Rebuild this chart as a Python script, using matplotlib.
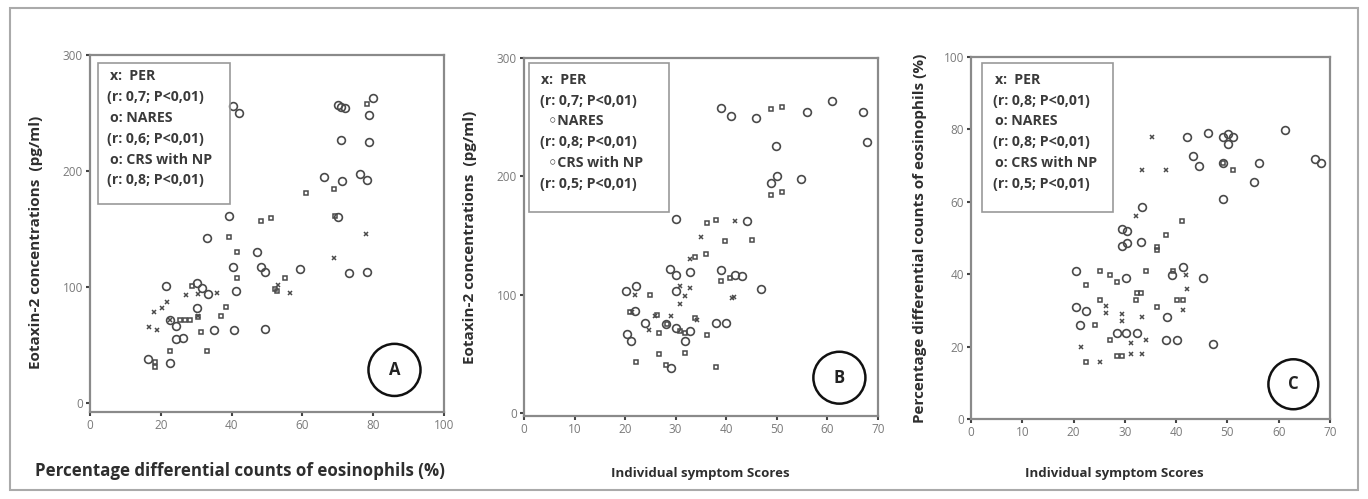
import matplotlib.pyplot as plt
from matplotlib.patches import Ellipse, Rectangle

# ---- Panel A: eosinophils (%) vs eotaxin-2 (pg/ml)
a_nares_x = [40.3, 42.2, 70, 71, 72, 80, 78.8, 70.9, 78.8, 66.1, 71.2, 76.4, 78.3, 70.1, 73.2, 78.3,
             59.3, 48.3, 49.4, 47.1, 40.5, 39.2, 33.1, 41.2, 49.4, 21.5, 30.3, 31.5, 33.4, 30.3,
             24.2, 22.6, 24.2, 26.3, 40.7, 35.1, 16.5, 22.6]
a_nares_y = [256, 250, 257, 255, 254, 263, 248, 227, 225, 195, 191, 197, 192, 160, 112, 113,
             115, 117, 113, 130, 117, 161, 142, 96, 64, 101, 103, 99, 94, 82,
             66, 71, 55, 56, 63, 63, 38, 34]
a_crs_x = [78.3, 61, 69, 69.2, 51, 48.3, 39.3, 41.4, 41.4, 55.2, 52.2, 52.8, 38.4, 37.1, 31.4,
           33, 22.6, 25.4, 26.8, 28.2, 30.5, 18.4, 18.4, 28.7]
a_crs_y = [258, 181, 184, 161, 159, 157, 143, 130, 108, 108, 98, 96, 83, 75, 61,
           45, 45, 71, 71, 71, 74, 35, 31, 101]
a_per_x = [77.9, 69, 56.5, 53.1, 36, 27.1, 30.4, 21.7, 20.4, 18.1, 16.6, 18.9, 30.5, 22.7]
a_per_y = [146, 125, 95, 102, 95, 93, 94, 87, 82, 78, 65, 63, 75, 71]

# ---- Panel B: symptom scores vs eotaxin-2 (pg/ml)
b_nares_x = [38.9, 40.9, 45.9, 60.9, 55.9, 67, 67.9, 49.8, 50, 48.9, 54.8, 30.1, 44.1, 28.9, 30.1,
             32.8, 39, 41.8, 43.1, 46.8, 22.1, 20.2, 30, 22, 24, 20.3, 21.1, 30, 28.1, 32.8,
             37.9, 40, 29.1, 31.9]
b_nares_y = [258, 251, 249, 264, 254, 254, 229, 226, 200, 194, 198, 164, 162, 122, 117,
             119, 121, 117, 116, 105, 107, 103, 103, 86, 76, 67, 61, 72, 75, 69,
             76, 76, 38, 61]
b_crs_x = [48.9, 51, 48.8, 51, 36.1, 38, 39.8, 45, 36, 33.8, 39, 40.8, 24.9, 26.3, 26.8, 28.2,
           31.9, 30.9, 31.9, 26.8, 22.1, 28, 36.1, 38, 33.8, 20.9]
b_crs_y = [257, 259, 184, 187, 161, 163, 145, 146, 134, 132, 112, 114, 100, 83, 68, 75,
           68, 69, 51, 50, 43, 41, 66, 39, 80, 85]
b_per_x = [35, 41.8, 32.8, 30.9, 32.8, 31.9, 30.9, 29.1, 25.9, 24.8, 21.3, 22, 34.2, 41.1, 41.6]
b_per_y = [149, 162.5, 130, 107, 106, 99, 92, 82, 82, 70, 85, 100, 79, 97, 98]

# ---- Panel C: symptom scores vs eosinophils (%)
c_nares_x = [61.2, 46.3, 42.2, 49.1, 50.2, 51.1, 50.2, 43.3, 44.4, 49.1, 56.2, 55.2, 49.1, 67.1,
             68.2, 33.3, 29.4, 30.4, 29.4, 30.4, 33.1, 20.5, 30.3, 41.3, 39.2, 47.1, 21.3, 20.4,
             22.4, 28.4, 30.3, 32.3, 38.1, 40.2, 38.3, 45.2]
c_nares_y = [79.9, 79, 78, 78, 78.8, 78, 76, 72.7, 69.8, 70.7, 70.7, 65.6, 60.7, 71.8,
             70.7, 58.7, 52.4, 51.8, 47.8, 48.6, 48.8, 41, 38.9, 42, 39.8, 20.7, 26, 30.9,
             29.9, 23.7, 23.7, 23.7, 21.7, 21.7, 28.1, 38.9]
c_crs_x = [51.1, 41.1, 38.1, 36.2, 36.2, 25.1, 27.1, 28.4, 34.2, 39.3, 22.4, 32.3, 33.1, 32.2,
           40.1, 41.3, 25.1, 36.3, 24.2, 27.2, 28.5, 29.4, 22.4, 49.1]
c_crs_y = [68.7, 54.8, 50.9, 47.6, 46.7, 41, 39.8, 37.8, 41, 41, 36.9, 34.7, 34.7, 33,
           33, 33, 33, 31, 26, 21.7, 17.4, 17.4, 15.7, 70.7]
c_per_x = [35.3, 33.3, 38.1, 32.2, 42, 42.2, 41.3, 26.3, 26.3, 29.4, 29.4, 33.3, 34.2, 31.2,
           31.2, 33.3, 21.4, 25.1]
c_per_y = [78, 68.8, 68.8, 56, 39.8, 35.9, 30.1, 31.2, 29.2, 29, 27.1, 28.1, 21.8, 20.9,
           18, 18, 19.8, 15.7]

a_legend = ["x:  PER", "(r: 0,7; P<0,01)", "o: NARES", "(r: 0,6; P<0,01)", "o: CRS with NP", "(r: 0,8; P<0,01)"]
b_legend = ["x:  PER", "(r: 0,7; P<0,01)", "  \u25e6NARES", "(r: 0,8; P<0,01)", "  \u25e6CRS with NP", "(r: 0,5; P<0,01)"]
c_legend = ["x:  PER", "(r: 0,8; P<0,01)", "o: NARES", "(r: 0,8; P<0,01)", "o: CRS with NP", "(r: 0,5; P<0,01)"]

plt.rcParams['font.family'] = ['Open Sans', 'DejaVu Sans']

GRAY = '#8a8a8a'
MK = '#4a4a4a'
TXT = '#2e2e2e'


def scatterPanel(ax, nx, ny, cx, cy, px, py):
    ax.plot(nx, ny, 'o', ms=5.6, mfc='none', mec=MK, mew=1.2, ls='none')
    ax.plot(cx, cy, 's', ms=3.4, mfc='none', mec=MK, mew=1.1, ls='none')
    ax.plot(px, py, 'x', ms=3.3, mec=MK, mew=1.1, ls='none')
    for s in ax.spines.values():
        s.set_color(GRAY)
        s.set_linewidth(1.6)
    ax.tick_params(direction='out', length=3, width=1.5, color='#444', labelsize=8.5,
                   labelcolor='#7a7a7a', pad=2)


def legendBox(ax, box, xs, ys, lines):
    x0, x1, y0, y1 = box
    ax.add_patch(Rectangle((x0, y0), x1 - x0, y1 - y0, transform=ax.transAxes,
                           fill=False, ec='#999999', lw=1.2, zorder=5))
    for i, t in enumerate(lines):
        ax.text(xs[i % 2], ys[i], t, transform=ax.transAxes, fontsize=10.2,
                fontweight='bold', color='#3a3a3a', va='center', ha='left', zorder=6)


def circledLetter(ax, cx, cy, w, h, letter):
    ax.add_patch(Ellipse((cx, cy), w, h, transform=ax.transAxes, fill=False,
                         ec='#111111', lw=1.8, zorder=6))
    ax.text(cx, cy, letter, transform=ax.transAxes, fontsize=12, fontweight='bold',
            color='#222', ha='center', va='center', zorder=7)


fig = plt.figure(figsize=(13.68, 4.99), dpi=100)
fig.patches.append(Rectangle((0.007, 0.018), 0.986, 0.966, transform=fig.transFigure,
                             fill=False, ec='#aaaaaa', lw=1.5))

axA = fig.add_axes([0.0658, 0.1743, 0.2588, 0.7154])
scatterPanel(axA, a_nares_x, a_nares_y, a_crs_x, a_crs_y, a_per_x, a_per_y)
axA.set_xlim(0, 100)
axA.set_ylim(-8, 300)
axA.set_xticks([0, 20, 40, 60, 80, 100])
axA.set_yticks([0, 100, 200, 300])
axA.set_ylabel('Eotaxin-2 concentrations  (pg/ml)', fontsize=11, fontweight='bold', color=TXT)
axA.yaxis.set_label_coords(-0.133, 0.476)
axA.set_xlabel('Percentage differential counts of eosinophils (%)', fontsize=12.2,
               fontweight='bold', color=TXT)
axA.xaxis.set_label_coords(0.424, -0.14)
legendBox(axA, (0.023, 0.395, 0.583, 0.978), (0.056, 0.048),
          [0.941, 0.883, 0.825, 0.766, 0.707, 0.650], a_legend)
circledLetter(axA, 0.86, 0.118, 0.147, 0.146, 'A')

axB = fig.add_axes([0.383, 0.1663, 0.2588, 0.7174])
scatterPanel(axB, b_nares_x, b_nares_y, b_crs_x, b_crs_y, b_per_x, b_per_y)
axB.set_xlim(0, 70)
axB.set_ylim(-2.5, 300)
axB.set_xticks(range(0, 71, 10))
axB.set_yticks([0, 100, 200, 300])
axB.set_ylabel('Eotaxin-2 concentrations  (pg/ml)', fontsize=11, fontweight='bold', color=TXT)
axB.yaxis.set_label_coords(-0.133, 0.5)
axB.set_xlabel('Individual symptom Scores', fontsize=9.5, fontweight='bold', color=TXT)
axB.xaxis.set_label_coords(0.497, -0.142)
legendBox(axB, (0.014, 0.410, 0.570, 0.986), (0.047, 0.044),
          [0.939, 0.881, 0.825, 0.766, 0.708, 0.648], b_legend)
circledLetter(axB, 0.891, 0.107, 0.147, 0.145, 'B')

axC = fig.add_axes([0.7098, 0.1603, 0.2624, 0.7255])
scatterPanel(axC, c_nares_x, c_nares_y, c_crs_x, c_crs_y, c_per_x, c_per_y)
axC.set_xlim(0, 70)
axC.set_ylim(0, 100)
axC.set_xticks(range(0, 71, 10))
axC.set_yticks(range(0, 101, 20))
axC.set_ylabel('Percentage differential counts of eosinophils (%)', fontsize=11,
               fontweight='bold', color=TXT)
axC.yaxis.set_label_coords(-0.123, 0.5)
axC.set_xlabel('Individual symptom Scores', fontsize=9.5, fontweight='bold', color=TXT)
axC.xaxis.set_label_coords(0.40, -0.133)
legendBox(axC, (0.031, 0.396, 0.572, 0.983), (0.067, 0.060),
          [0.936, 0.879, 0.823, 0.764, 0.708, 0.649], c_legend)
circledLetter(axC, 0.898, 0.096, 0.139, 0.138, 'C')

fig.savefig('out.png', dpi=100)
